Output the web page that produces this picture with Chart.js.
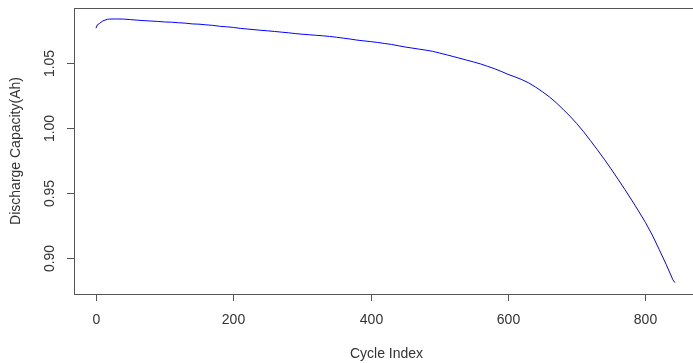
<!DOCTYPE html>
<html>
<head>
<meta charset="utf-8">
<script src="https://cdn.jsdelivr.net/npm/chart.js@4"></script>
<style>
html, body { margin: 0; padding: 0; background: #fff; overflow: hidden; }
</style>
</head>
<body>
<canvas id="chart" width="710" height="363"></canvas>
<script>

// cycle index vs discharge capacity
var cycles = [0, 2, 5, 10, 17, 20, 30, 40, 50, 60, 70, 80, 90, 100, 110, 120, 130, 140, 150, 160,
	170, 180, 190, 200, 210, 220, 230, 240, 250, 260, 270, 280, 290, 300, 310, 320, 330, 340, 350, 360,
	370, 380, 390, 400, 410, 420, 430, 440, 450, 460, 470, 480, 490, 500, 510, 520, 530, 540, 550, 560,
	570, 580, 590, 600, 610, 620, 630, 640, 650, 660, 670, 680, 690, 700, 710, 720, 730, 740, 750, 760,
	770, 780, 790, 800, 810, 820, 830, 840, 843];
var capacity = [1.0764, 1.0790, 1.0800, 1.0820, 1.0833, 1.0834, 1.0835, 1.0834, 1.0830, 1.0826, 1.0822, 1.0819, 1.0816, 1.0812, 1.0810, 1.0806, 1.0803, 1.0797, 1.0795, 1.0790,
	1.0786, 1.0779, 1.0775, 1.0770, 1.0763, 1.0758, 1.0753, 1.0748, 1.0744, 1.0739, 1.0734, 1.0729, 1.0723, 1.0718, 1.0714, 1.0710, 1.0706, 1.0701, 1.0695, 1.0688,
	1.0681, 1.0673, 1.0667, 1.0661, 1.0655, 1.0647, 1.0640, 1.0630, 1.0620, 1.0612, 1.0604, 1.0596, 1.0587, 1.0574, 1.0561, 1.0547, 1.0533, 1.0519, 1.0505, 1.0490,
	1.0472, 1.0454, 1.0433, 1.0410, 1.0391, 1.0370, 1.0345, 1.0313, 1.0277, 1.0238, 1.0193, 1.0143, 1.0090, 1.0033, 0.9970, 0.9902, 0.9832, 0.9760, 0.9685, 0.9607,
	0.9528, 0.9446, 0.9362, 0.9275, 0.9178, 0.9068, 0.8955, 0.8835, 0.8813];

var xTicks = [0, 200, 400, 600, 800];
var yTicks = [0.90, 0.95, 1.00, 1.05];
var yTickLabels = ['0.90', '0.95', '1.00', '1.05'];
var xTitle = 'Cycle Index';
var yTitle = 'Discharge Capacity(Ah)';

var points = [];
for (var i = 0; i < cycles.length; i++) {
	points.push({ x: cycles[i], y: capacity[i] });
}

var font = '14px "Liberation Sans", Arial, sans-serif';
var ink = '#333';

// R style box, ticks and labels
var rAxes = {
	id: 'rAxes',
	afterDraw: function(c) {
		var g = c.ctx;
		var a = c.chartArea;
		var xs = c.scales.x;
		var ys = c.scales.y;
		g.save();
		g.strokeStyle = '#555';
		g.lineWidth = 1;
		g.strokeRect(Math.round(a.left) + 0.5, Math.round(a.top) + 0.5, Math.round(a.right - a.left), Math.round(a.bottom - a.top));

		g.font = font;
		g.fillStyle = ink;
		g.textAlign = 'center';
		g.textBaseline = 'middle';

		xTicks.forEach(function(v) {
			var px = Math.round(xs.getPixelForValue(v)) + 0.5;
			g.beginPath();
			g.moveTo(px, a.bottom);
			g.lineTo(px, a.bottom + 7);
			g.stroke();
			g.fillText(String(v), px, 320);
		});

		yTicks.forEach(function(v, k) {
			var py = Math.round(ys.getPixelForValue(v)) + 0.5;
			g.beginPath();
			g.moveTo(a.left, py);
			g.lineTo(a.left - 7, py);
			g.stroke();
			g.save();
			g.translate(50, py);
			g.rotate(-Math.PI / 2);
			g.fillText(yTickLabels[k], 0, 0);
			g.restore();
		});

		g.fillText(xTitle, (a.left + a.right) / 2, 354);
		g.save();
		g.translate(16, (a.top + a.bottom) / 2);
		g.rotate(-Math.PI / 2);
		g.fillText(yTitle, 0, 0);
		g.restore();
		g.restore();
	}
};

var ctx = document.getElementById('chart');
var chart = new Chart(ctx, {
	type: 'line',
	data: {
		datasets: [{
			data: points,
			borderColor: '#0000ff',
			borderWidth: 1,
			pointRadius: 0,
			tension: 0,
			fill: false
		}]
	},
	options: {
		responsive: false,
		animation: false,
		layout: { padding: { left: 74, top: 8, right: 11, bottom: 69 } },
		plugins: { legend: { display: false }, tooltip: { enabled: false } },
		scales: {
			x: { type: 'linear', min: -32, max: 878, display: false },
			y: { type: 'linear', min: 0.8726, max: 1.0919, display: false }
		}
	},
	plugins: [rAxes]
});
</script>
</body>
</html>
